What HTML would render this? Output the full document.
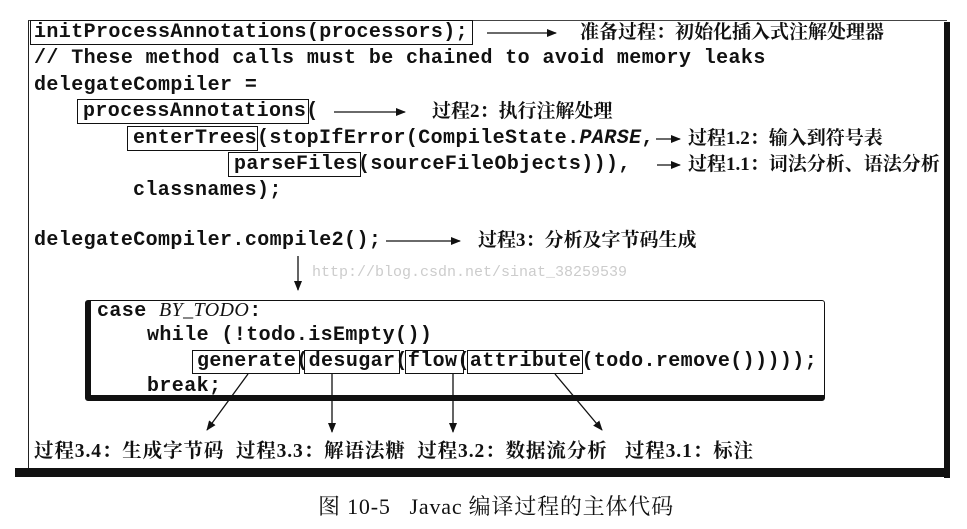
<!DOCTYPE html>
<html><head><meta charset="utf-8"><style>
body{margin:0;width:967px;height:529px;background:#fff;position:relative;overflow:hidden;font-family:"Liberation Mono",monospace;}
.m{position:absolute;font-family:"Liberation Mono",monospace;font-weight:bold;font-size:20px;letter-spacing:0.4px;color:#111;white-space:pre;line-height:24px;}
.c{position:absolute;font-family:"Liberation Serif","Noto Serif CJK SC",serif;font-size:19px;font-weight:bold;color:#111;white-space:pre;line-height:22px;}
.b{position:absolute;border:1.5px solid #111;box-sizing:border-box;}
</style></head><body>
<div style="position:absolute;left:28px;top:20px;width:918px;height:450px;border-left:1.5px solid #222;border-top:1.5px solid #444;"></div>
<div style="position:absolute;left:944px;top:22px;width:6px;height:456px;background:#111;"></div>
<div style="position:absolute;left:15px;top:468px;width:935px;height:9px;background:#111;"></div>

<div class="b" style="left:30px;top:20px;width:443px;height:25px;"></div>
<div class="m" style="left:34px;top:21px;">initProcessAnnotations(processors);</div>
<div class="m" style="left:34px;top:47px;">// These method calls must be chained to avoid memory leaks</div>
<div class="m" style="left:34px;top:74px;">delegateCompiler =</div>
<div class="b" style="left:77px;top:99px;width:232px;height:25px;"></div>
<div class="m" style="left:83px;top:100px;">processAnnotations(</div>
<div class="b" style="left:127px;top:126px;width:131px;height:25px;"></div>
<div class="m" style="left:133px;top:127px;">enterTrees(stopIfError(CompileState.<i>PARSE</i>,</div>
<div class="b" style="left:228px;top:152px;width:133px;height:25px;"></div>
<div class="m" style="left:234px;top:153px;">parseFiles(sourceFileObjects))),</div>
<div class="m" style="left:133px;top:179px;">classnames);</div>
<div class="m" style="left:34px;top:229px;">delegateCompiler.compile2();</div>

<svg style="position:absolute;left:0;top:0" width="967" height="529">
<defs><marker id="a" markerWidth="10" markerHeight="8" refX="9" refY="4" orient="auto" markerUnits="userSpaceOnUse"><path d="M0,0 L10,4 L0,8 z" fill="#111"/></marker></defs>
<g stroke="#111" stroke-width="1.3" fill="none" marker-end="url(#a)">
<line x1="487" y1="33" x2="556" y2="33"/>
<line x1="334" y1="112" x2="405" y2="112"/>
<line x1="656" y1="139" x2="680" y2="139"/>
<line x1="657" y1="165" x2="680" y2="165"/>
<line x1="386" y1="241" x2="460" y2="241"/>
<line x1="298" y1="256" x2="298" y2="290"/>
<line x1="248" y1="374" x2="207" y2="430"/>
<line x1="332" y1="374" x2="332" y2="432"/>
<line x1="453" y1="374" x2="453" y2="432"/>
<line x1="555" y1="374" x2="602" y2="430"/>
</g>
</svg>
<div class="c" style="left:580px;top:22px;">准备过程：初始化插入式注解处理器</div>
<div class="c" style="left:432px;top:101px;">过程2：执行注解处理</div>
<div class="c" style="left:688px;top:128px;">过程1.2：输入到符号表</div>
<div class="c" style="left:688px;top:154px;">过程1.1：词法分析、语法分析</div>
<div class="c" style="left:478px;top:230px;">过程3：分析及字节码生成</div>
<div style="position:absolute;left:312px;top:264px;font-family:'Liberation Mono',monospace;font-size:15px;color:#ccc;">http://blog.csdn.net/sinat_38259539</div>

<div style="position:absolute;left:85px;top:300px;width:740px;height:101px;border:1.5px solid #111;border-left:6px solid #111;border-bottom:6px solid #111;box-sizing:border-box;border-radius:3px;"></div>
<div class="m" style="left:97px;top:298px;">case <i style="font-family:'Liberation Serif',serif;font-weight:normal">BY_TODO</i>:</div>
<div class="m" style="left:147px;top:324px;">while (!todo.isEmpty())</div>
<div class="b" style="left:192px;top:350px;width:108px;height:24px;"></div>
<div class="b" style="left:304px;top:350px;width:96px;height:24px;"></div>
<div class="b" style="left:405px;top:350px;width:59px;height:24px;"></div>
<div class="b" style="left:467px;top:350px;width:116px;height:24px;"></div>
<div class="m" style="left:197px;top:350px;">generate(desugar(flow(attribute(todo.remove()))));</div>
<div class="m" style="left:147px;top:375px;">break;</div>

<div class="c" style="left:34px;top:441px;font-size:19.5px;letter-spacing:0.9px;">过程3.4：生成字节码  过程3.3：解语法糖  过程3.2：数据流分析   过程3.1：标注</div>
<div class="c" style="left:318px;top:496px;font-size:22px;font-weight:normal;letter-spacing:0.8px;">图 10-5   Javac 编译过程的主体代码</div>
</body></html>
